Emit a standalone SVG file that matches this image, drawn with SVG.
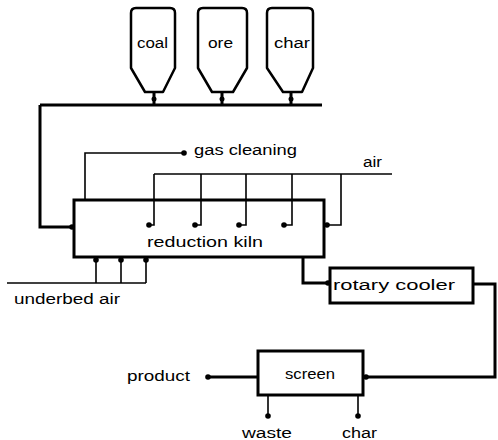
<svg xmlns="http://www.w3.org/2000/svg" width="498" height="440" viewBox="0 0 498 440">
<style>
.box{fill:none;stroke:#000;stroke-width:3}
.hop{fill:#fff;stroke:#000;stroke-width:2.5;stroke-linejoin:round}
.thick{fill:none;stroke:#000;stroke-width:3}
.thin{fill:none;stroke:#000;stroke-width:1.6}
text{font-family:"Liberation Sans",Arial,sans-serif;font-size:14px;fill:#000}
</style>
<defs>
<marker id="dot" viewBox="-4 -4 8 8" markerWidth="7" markerHeight="7" markerUnits="userSpaceOnUse"><circle r="3.2" fill="#000"/></marker>
</defs>
<rect width="498" height="440" fill="#fff"/>
<g id="connectors">
<path class="thick" d="M40 105H322"/>
<path class="thick" d="M154 93V105M222 93V105M291 93V105"/>
<circle cx="154" cy="99" r="2.5"/><circle cx="222" cy="99" r="2.5"/><circle cx="291" cy="99" r="2.5"/>
<path class="thick" d="M40 105V227H72" marker-end="url(#dot)"/>
<path class="thin" d="M85 199V153H184" marker-end="url(#dot)"/>
<path class="thin" d="M154 174H392"/>
<path class="thin" d="M154 174V225H149" marker-end="url(#dot)"/>
<path class="thin" d="M201 174V225H195" marker-end="url(#dot)"/>
<path class="thin" d="M246 174V225H239" marker-end="url(#dot)"/>
<path class="thin" d="M292 174V225H284" marker-end="url(#dot)"/>
<path class="thin" d="M341 174V225H327" marker-end="url(#dot)"/>
<path class="thin" d="M7 283H146"/>
<path class="thin" d="M96 283V260" marker-end="url(#dot)"/>
<path class="thin" d="M121 283V260" marker-end="url(#dot)"/>
<path class="thin" d="M146 283V260" marker-end="url(#dot)"/>
<path class="thick" d="M303 257V283H328" marker-end="url(#dot)"/>
<path class="thick" d="M473 284H495V377H366" marker-end="url(#dot)"/>
<path class="thick" d="M258 377H208" marker-end="url(#dot)"/>
<path class="thin" d="M268 396V416" marker-end="url(#dot)"/>
<path class="thin" d="M358 396V416" marker-end="url(#dot)"/>
</g>
<g id="coal"><path class="hop" d="M131 68V13Q131 8 136 8H170Q175 8 175 13V68L163 92H145Z"/><text x="137" y="48" textLength="31" lengthAdjust="spacingAndGlyphs">coal</text></g>
<g id="ore"><path class="hop" d="M198 68V13Q198 8 203 8H242Q247 8 247 13V68L233 92H212Z"/><text x="208" y="48" textLength="25" lengthAdjust="spacingAndGlyphs">ore</text></g>
<g id="char-hopper"><path class="hop" d="M267 68V13Q267 8 272 8H308Q313 8 313 13V68L302 92H283Z"/><text x="274" y="48" textLength="36" lengthAdjust="spacingAndGlyphs">char</text></g>
<g id="kiln"><rect class="box" x="74" y="200" width="250" height="57"/><text x="147" y="247" textLength="116" lengthAdjust="spacingAndGlyphs">reduction kiln</text></g>
<g id="cooler"><rect class="box" x="330" y="268" width="143" height="35"/><text x="333" y="290" textLength="122" lengthAdjust="spacingAndGlyphs">rotary cooler</text></g>
<g id="screen"><rect class="box" x="258" y="351" width="105" height="44"/><text x="285" y="379" textLength="50" lengthAdjust="spacingAndGlyphs">screen</text></g>
<g id="gas-cleaning"><text x="194" y="155" textLength="103" lengthAdjust="spacingAndGlyphs">gas cleaning</text></g>
<g id="air"><text x="363" y="167" textLength="19" lengthAdjust="spacingAndGlyphs">air</text></g>
<g id="underbed-air"><text x="14" y="304" textLength="106" lengthAdjust="spacingAndGlyphs">underbed air</text></g>
<g id="product"><text x="127" y="381" textLength="63" lengthAdjust="spacingAndGlyphs">product</text></g>
<g id="waste"><text x="242" y="438" textLength="50" lengthAdjust="spacingAndGlyphs">waste</text></g>
<g id="char-out"><text x="342" y="438" textLength="35" lengthAdjust="spacingAndGlyphs">char</text></g>
</svg>
